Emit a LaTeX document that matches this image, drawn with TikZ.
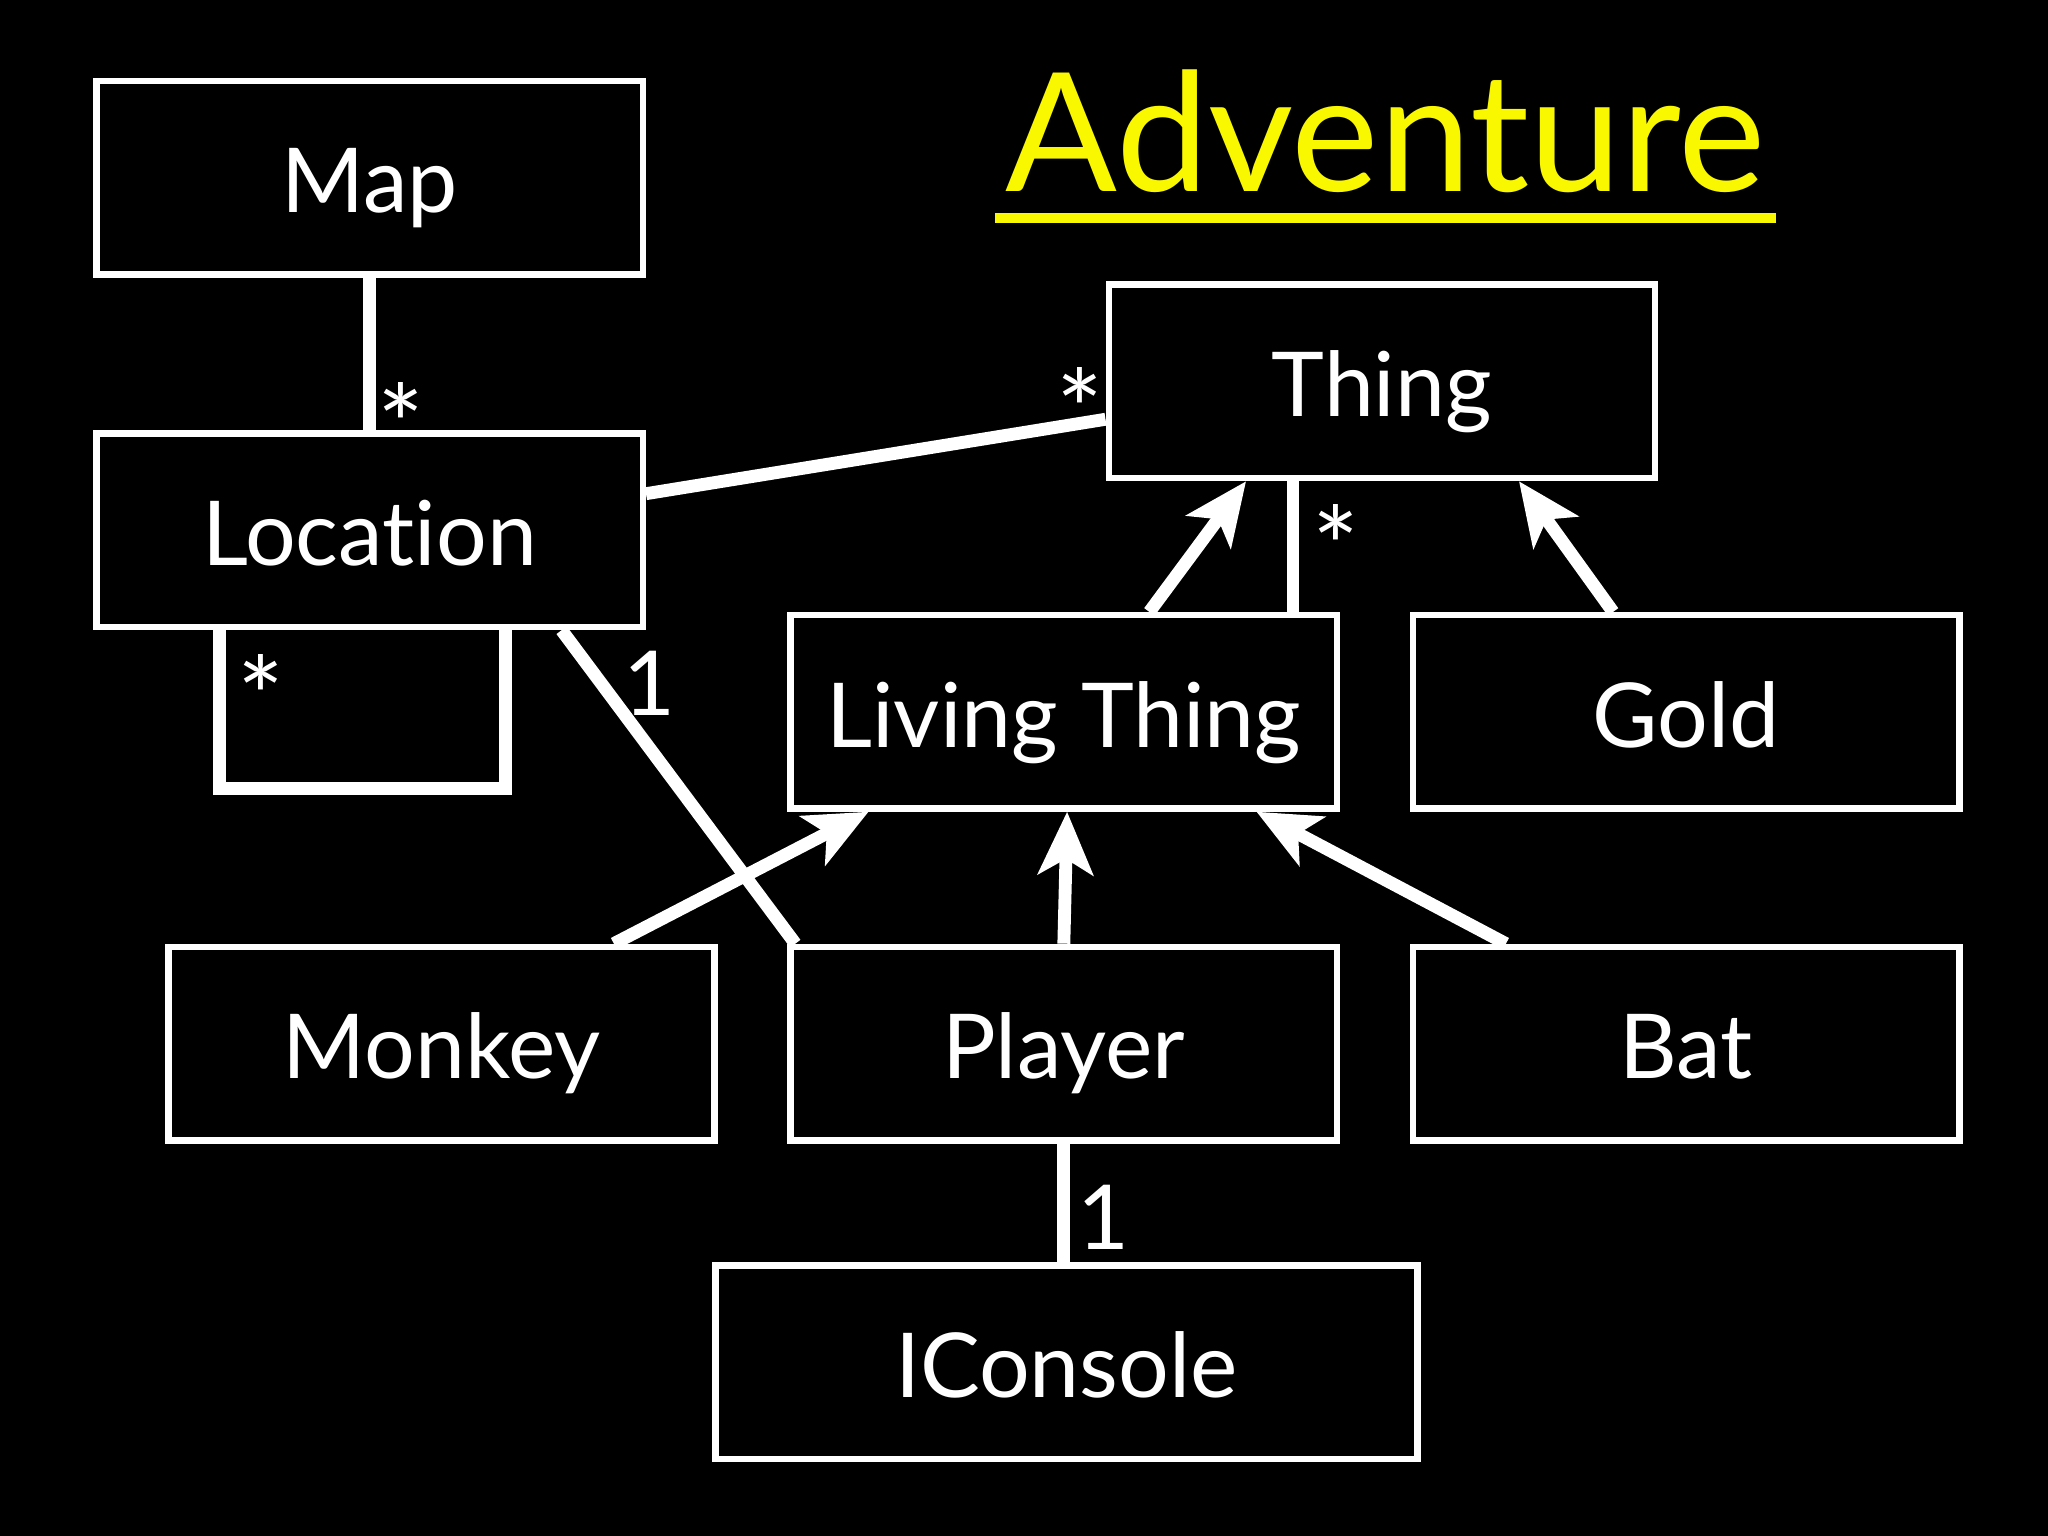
\documentclass[tikz,border=0pt]{standalone}
\usepackage{fontspec}
\setmainfont{Lato}[Ligatures=NoCommon]
\usetikzlibrary{arrows.meta,calc}
\definecolor{advyellow}{RGB}{250,248,0}
\begin{document}
\begin{tikzpicture}[x=0.01cm,y=-0.01cm,
  box/.style={draw=white, line width=1.4pt, fill=black, text=white, inner sep=0pt,
    minimum width=4.18cm, minimum height=1.48cm, text height=0.54cm, text depth=0cm,
    font=\fontsize{19.5}{23}\selectfont},
  conn/.style={draw=white, line width=2.8pt},
  inh/.style={conn, -{Stealth[length=0.48cm,width=0.42cm,inset=0.12cm]}},
  lbl/.style={text=white, font=\fontsize{19.5}{23}\selectfont, inner sep=0pt},
  star/.style={text=white, font=\fontsize{24}{26}\selectfont, inner sep=0pt}]
\fill[black] (0,0) rectangle (1568,1176);
\useasboundingbox (0,0) rectangle (1568,1176);

% title
\node[text=advyellow, font=\fontsize{36}{40}\selectfont, anchor=base, inner sep=0pt] (title) at (1061,147) {Adventure};
\draw[advyellow, line width=2.2pt] (762,167) -- (1360,167);

% boxes
\node[box] (map) at (283,136) {Map};
\node[box] (loc) at (283,406) {Location};
\node[box] (thing) at (1058,292) {Thing};
\node[box] (living) at (814.5,545) {Living Thing};
\node[box] (gold) at (1291,545) {Gold};
\node[box] (monkey) at (338,799) {Monkey};
\node[box] (player) at (814.5,799) {Player};
\node[box] (bat) at (1291,799) {Bat};
\node[box, minimum width=5.37cm] (icon) at (816.5,1043) {IConsole};

% associations
\draw[conn] (map.south) -- (loc.north);
\draw[conn] ($(loc.east)+(0,-28)$) -- ($(thing.west)+(0,29)$);
\draw[conn] ($(thing.south)+(-68,0)$) -- ($(living.north)+(175.5,0)$);
\draw[conn] ($(loc.south)+(147,0)$) -- ($(player.north west)+(6,0)$);
\draw[conn] (player.south) -- ($(icon.north)+(-2,0)$);
\draw[conn, line join=miter] ($(loc.south)+(-115,0)$) -- ++(0,121) -- ++(219,0) -- ++(0,-121);

% inheritance
\draw[inh] ($(living.north)+(65.5,0)$) -- ($(thing.south)+(-104,0)$);
\draw[inh] ($(gold.north)+(-56,0)$) -- ($(thing.south)+(105,0)$);
\draw[inh] ($(monkey.north)+(132,0)$) -- ($(living.south)+(-149.5,0)$);
\draw[inh] (player.north) -- ($(living.south)+(2.5,0)$);
\draw[inh] ($(bat.north)+(-138,0)$) -- ($(living.south)+(147.5,0)$);

% multiplicities
\node[star] (m1) at (307,325) {*};
\node[star] (m2) at (827,313) {*};
\node[star] (m3) at (1023,418) {*};
\node[star] (m4) at (200,533) {*};
\node[lbl] (m5) at (497,523) {1};
\node[lbl] (m6) at (845,932) {1};
\end{tikzpicture}
\end{document}
